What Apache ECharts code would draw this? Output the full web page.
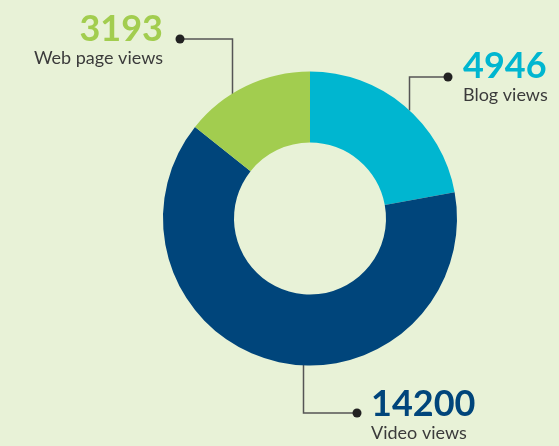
<!DOCTYPE html>
<html>
<head>
<meta charset="utf-8">
<script src="https://cdn.jsdelivr.net/npm/echarts@6/dist/echarts.min.js"></script>
<style>
html,body{margin:0;padding:0;background:#e8f2d7;}
#c{width:559px;height:446px;}
</style>
</head>
<body>
<div id="c"></div>
<script>
const categories = ['Blog views', 'Video views', 'Web page views'];
const values = [4946, 14200, 3193];
const colors = ['#00b6d0', '#00457b', '#a2cd4f'];

const labelSpots = [
  {x: 463, y: 47, align: 'left', line: [[409.5, 110.5], [409.5, 77], [448, 77]], dot: [448, 77]},
  {x: 371, y: 385, align: 'left', line: [[303.5, 365], [303.5, 413], [357, 413]], dot: [357, 413]},
  {x: 163, y: 10, align: 'right', line: [[232.5, 94], [232.5, 39], [180, 39]], dot: [180, 39]}
];

const chart = echarts.init(document.getElementById('c'), null, {renderer: 'canvas'});
const data = categories.map((n, i) => ({
  name: n, value: values[i],
  itemStyle: {color: colors[i]},
  label: {rich: {v: {color: colors[i]}}}
}));

chart.setOption({
  backgroundColor: '#e8f2d7',
  animation: false,
  series: [{
    type: 'pie',
    center: [310, 218.5],
    radius: [76, 147],
    startAngle: 90,
    clockwise: true,
    data: data,
    label: {
      show: true,
      position: 'outside',
      formatter: '{v|{c}}\n{n|{b}}',
      rich: {
        v: {fontFamily: 'Lato', fontWeight: 'bold', fontSize: 36, lineHeight: 38},
        n: {fontFamily: 'Lato', fontSize: 18, lineHeight: 20, color: '#3b3b3b'}
      }
    },
    labelLine: {show: true, lineStyle: {color: '#555', width: 1.5}},
    labelLayout: function (params) {
      const s = labelSpots[params.dataIndex];
      return {x: s.x, y: s.y, align: s.align, verticalAlign: 'top', labelLinePoints: s.line};
    },
    emphasis: {disabled: true}
  }],
  graphic: labelSpots.map(s => ({
    type: 'circle', shape: {cx: s.dot[0], cy: s.dot[1], r: 4.5},
    style: {fill: '#222'}, z: 100
  }))
});
</script>
</body>
</html>
